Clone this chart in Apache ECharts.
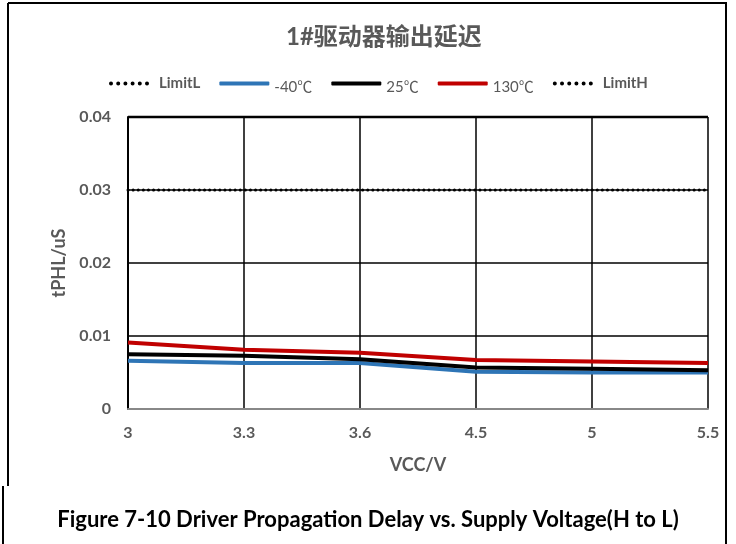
<!DOCTYPE html>
<html><head><meta charset="utf-8">
<script src="https://cdn.jsdelivr.net/npm/echarts@6/dist/echarts.min.js"></script>
<style>html,body{margin:0;padding:0;background:#fff}#c{width:736px;height:544px}</style>
</head><body><div id="c"></div>
<script>
var categories = ['3', '3.3', '3.6', '4.5', '5', '5.5'];
var limitL = [null, null, null, null, null, null];
var m40 = [0.0066, 0.0063, 0.0063, 0.0051, 0.0050, 0.0050];
var t25 = [0.0075, 0.0073, 0.0068, 0.0057, 0.0055, 0.0053];
var t130 = [0.0091, 0.0081, 0.0077, 0.0067, 0.0065, 0.0063];
var limitH = [0.03, 0.03, 0.03, 0.03, 0.03, 0.03];
var yTicks = [0, 0.01, 0.02, 0.03, 0.04];

var chart = echarts.init(document.getElementById('c'));
var FONT = 'Lato, "Noto Sans CJK SC", sans-serif';

var dotPath = 'path://';
for (var k = 0; k < 6; k++) {
  var cx = 7.2 * k;
  dotPath += 'M' + cx + ',2a2,2 0 1,0 4,0a2,2 0 1,0 -4,0z';
}

function lineSeries(name, data, color, dotted) {
  return {
    name: name, type: 'line', data: data, symbol: 'none', smooth: false,
    lineStyle: dotted ? { color: '#000', width: 3, type: [0.1, 5], cap: 'round' } : { color: color, width: 4 },
    itemStyle: { color: color },
    z: dotted ? 3 : 4
  };
}
chart.setOption({
  animation: false,
  title: [
    { text: '1#驱动器输出延迟', left: 281, top: 20,
      textStyle: { fontFamily: FONT, fontSize: 24, fontWeight: 'bold', color: '#595959' } },
    { text: 'Figure 7-10 Driver Propagation Delay vs. Supply Voltage(H to L)', left: 'center', top: 504,
      textStyle: { fontFamily: FONT, fontSize: 22, fontWeight: 'bold', color: '#000' } }
  ],
  legend: {
    top: 71, left: 104, itemWidth: 50, itemHeight: 4, itemGap: 19,
    data: [
      { name: 'LimitL', icon: dotPath, itemStyle: { color: '#000' } },
      { name: '-40℃', icon: 'roundRect' },
      { name: '25℃', icon: 'roundRect' },
      { name: '130℃', icon: 'roundRect' },
      { name: 'LimitH', icon: dotPath, itemStyle: { color: '#000' } }
    ],
    formatter: function (n) { return n.indexOf('℃') >= 0 ? '{t|' + n + '}' : '{b|' + n + '}'; },
    textStyle: {
      fontFamily: FONT, color: '#595959',
      rich: {
        b: { fontSize: 15, fontWeight: 'bold', color: '#595959', fontFamily: FONT },
        t: { fontSize: 15, fontWeight: 'normal', color: '#595959', fontFamily: FONT, padding: [8, 0, 0, 0] }
      }
    }
  },
  grid: { left: 128, right: 28, top: 117, bottom: 135, containLabel: false },
  xAxis: {
    type: 'category', data: categories, boundaryGap: false,
    name: 'VCC/V', nameLocation: 'middle', nameGap: 47,
    nameTextStyle: { fontFamily: FONT, fontSize: 18, fontWeight: 'bold', color: '#595959' },
    axisLine: { lineStyle: { color: '#888', width: 2 } },
    axisTick: { show: false },
    axisLabel: { fontFamily: FONT, fontSize: 16, fontWeight: 'bold', color: '#595959', margin: 16 },
    splitLine: { show: true, lineStyle: { color: '#000', width: 1.5 } }
  },
  yAxis: {
    type: 'value', min: 0, max: 0.04, interval: 0.01,
    name: 'tPHL/uS', nameLocation: 'middle', nameGap: 57,
    nameTextStyle: { fontFamily: FONT, fontSize: 18, fontWeight: 'bold', color: '#595959' },
    axisLine: { show: true, lineStyle: { color: '#000', width: 2 } },
    axisTick: { show: false },
    axisLabel: { fontFamily: FONT, fontSize: 16, fontWeight: 'bold', color: '#595959', margin: 17,
      formatter: function (v) { return yTicks.indexOf(v) >= 0 ? String(v) : ''; } },
    splitLine: { show: true, lineStyle: { color: '#000', width: 1.5 } }
  },
  graphic: [
    { type: 'line', shape: { x1: 8, y1: 3, x2: 727, y2: 3 }, style: { stroke: '#000', lineWidth: 2 } },
    { type: 'line', shape: { x1: 8, y1: 3, x2: 8, y2: 486 }, style: { stroke: '#000', lineWidth: 2 } },
    { type: 'line', shape: { x1: 3, y1: 486, x2: 3, y2: 544 }, style: { stroke: '#000', lineWidth: 2 } },
    { type: 'line', shape: { x1: 726, y1: 3, x2: 726, y2: 544 }, style: { stroke: '#000', lineWidth: 2 } },
    { type: 'line', shape: { x1: 128, y1: 117, x2: 708, y2: 117 }, style: { stroke: '#000', lineWidth: 2.5 }, z: 10 }
  ],
  series: [
    lineSeries('LimitL', limitL, '#000', true),
    lineSeries('-40℃', m40, '#2E75B6', false),
    lineSeries('25℃', t25, '#000000', false),
    lineSeries('130℃', t130, '#C00000', false),
    lineSeries('LimitH', limitH, '#000', true)
  ]
});
</script></body></html>
